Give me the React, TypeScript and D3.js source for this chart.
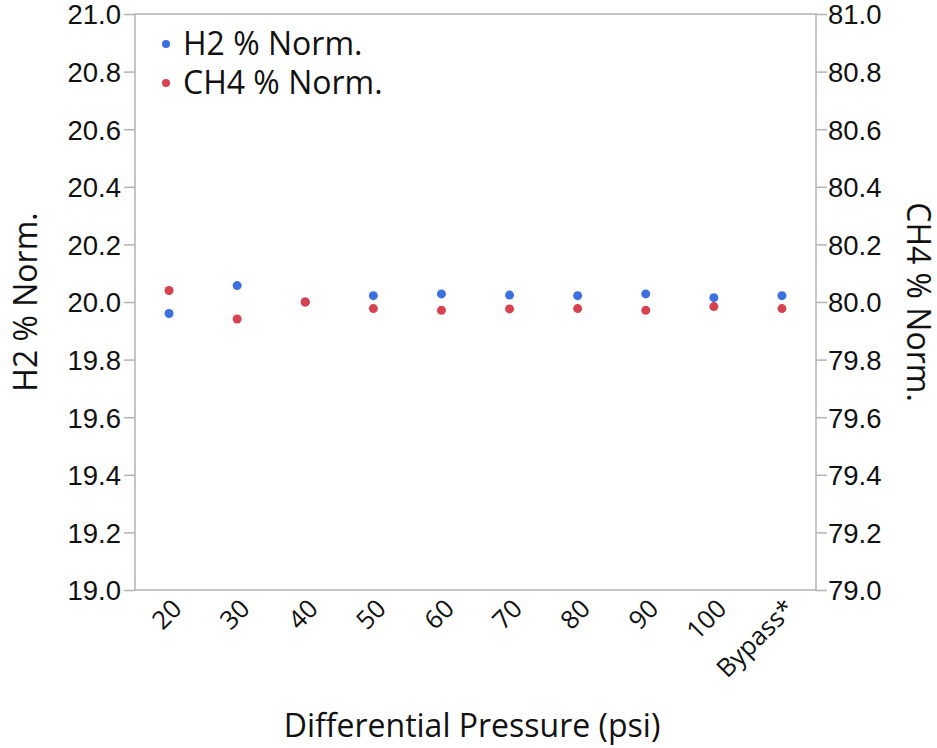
import * as d3 from "d3";
import { useEffect, useRef } from "react";

const categories = ["20", "30", "40", "50", "60", "70", "80", "90", "100", "Bypass*"];
const h2Values = [19.96, 20.057, 20.0, 20.022, 20.028, 20.024, 20.022, 20.028, 20.015, 20.022];
const ch4Values = [80.04, 79.941, 80.0, 79.977, 79.971, 79.976, 79.977, 79.971, 79.984, 79.977];
const leftTicks = [19.0, 19.2, 19.4, 19.6, 19.8, 20.0, 20.2, 20.4, 20.6, 20.8, 21.0];
const rightTicks = [79.0, 79.2, 79.4, 79.6, 79.8, 80.0, 80.2, 80.4, 80.6, 80.8, 81.0];

const BLUE = "#3c6fe0";
const RED = "#d8414f";
const GRID = "#b3b3b3";
const FONT = "'Open Sans', 'Noto Sans', sans-serif";
const NUM_FONT = "'Liberation Sans', Arial, sans-serif";

const App = () => {
    const svgRef = useRef<SVGSVGElement>(null);
    const width = 937;
    const height = 748;

    useEffect(() => {
        const margin = { top: 14, right: 121, bottom: 158, left: 135 };
        const innerWidth = width - margin.left - margin.right;
        const innerHeight = height - margin.top - margin.bottom;

        const svg = d3.select(svgRef.current).attr("width", width).attr("height", height);
        svg.selectAll("*").remove();

        const g = svg.append("g").attr("transform", `translate(${margin.left},${margin.top})`);

        const x = d3.scaleBand().domain(categories).range([0, innerWidth]);
        const yL = d3.scaleLinear().domain([19, 21]).range([innerHeight, 0]);
        const yR = d3.scaleLinear().domain([79, 81]).range([innerHeight, 0]);

        // frame
        g.append("rect")
            .attr("width", innerWidth)
            .attr("height", innerHeight)
            .attr("fill", "none")
            .attr("stroke", GRID)
            .attr("stroke-width", 1.5);

        // left axis
        const left = g.append("g").call(
            d3.axisLeft(yL).tickValues(leftTicks).tickFormat(d3.format(".1f")).tickSize(11).tickPadding(3)
        );
        // right axis
        const right = g.append("g").attr("transform", `translate(${innerWidth},0)`).call(
            d3.axisRight(yR).tickValues(rightTicks).tickFormat(d3.format(".1f")).tickSize(11).tickPadding(1)
        );
        [left, right].forEach((ax) => {
            ax.select(".domain").remove();
            ax.selectAll("line").attr("stroke", GRID).attr("stroke-width", 1.5);
            ax.selectAll("text")
                .attr("fill", "#111")
                .attr("dy", "0.36em")
                .style("font-family", NUM_FONT)
                .style("font-size", "27.5px");
        });

        // bottom axis
        const bottom = g.append("g").attr("transform", `translate(0,${innerHeight})`).call(
            d3.axisBottom(x).tickSize(0).tickPadding(0)
        );
        bottom.select(".domain").remove();
        bottom.selectAll("text")
            .attr("fill", "#111")
            .attr("text-anchor", "end")
            .attr("y", 0)
            .attr("dy", "0")
            .attr("dominant-baseline", "hanging")
            .attr("transform", "translate(-1,5) rotate(-45)")
            .style("font-family", FONT)
            .style("font-size", "25.5px");

        // points
        g.selectAll(".h2")
            .data(h2Values)
            .join("circle")
            .attr("cx", (_, i) => x(categories[i])! + x.bandwidth() / 2)
            .attr("cy", (d) => yL(d))
            .attr("r", 4.5)
            .attr("fill", BLUE);

        g.selectAll(".ch4")
            .data(ch4Values)
            .join("circle")
            .attr("cx", (_, i) => x(categories[i])! + x.bandwidth() / 2)
            .attr("cy", (d) => yR(d))
            .attr("r", 4.5)
            .attr("fill", RED);

        // legend
        const legend = [
            { label: "H2 % Norm.", color: BLUE },
            { label: "CH4 % Norm.", color: RED },
        ];
        const lg = g.append("g");
        legend.forEach((l, i) => {
            lg.append("circle")
                .attr("cx", 31)
                .attr("cy", 30 + i * 39)
                .attr("r", 4)
                .attr("fill", l.color);
            lg.append("text")
                .attr("x", 48)
                .attr("y", 41 + i * 39)
                .attr("fill", "#111")
                .style("font-family", FONT)
                .style("font-size", "32px")
                .text(l.label);
        });

        // axis titles
        svg.append("text")
            .attr("transform", `translate(37,${margin.top + innerHeight / 2}) rotate(-90)`)
            .attr("text-anchor", "middle")
            .attr("fill", "#111")
            .style("font-family", FONT)
            .style("font-size", "32px")
            .text("H2 % Norm.");

        svg.append("text")
            .attr("transform", `translate(907,${margin.top + innerHeight / 2}) rotate(90)`)
            .attr("text-anchor", "middle")
            .attr("fill", "#111")
            .style("font-family", FONT)
            .style("font-size", "32px")
            .text("CH4 % Norm.");

        svg.append("text")
            .attr("x", 472)
            .attr("y", 737)
            .attr("text-anchor", "middle")
            .attr("fill", "#111")
            .style("font-family", FONT)
            .style("font-size", "32px")
            .text("Differential Pressure (psi)");
    }, []);

    return <svg ref={svgRef} style={{ display: "block", position: "absolute", left: 0, top: 0 }} />;
};

export default App;
